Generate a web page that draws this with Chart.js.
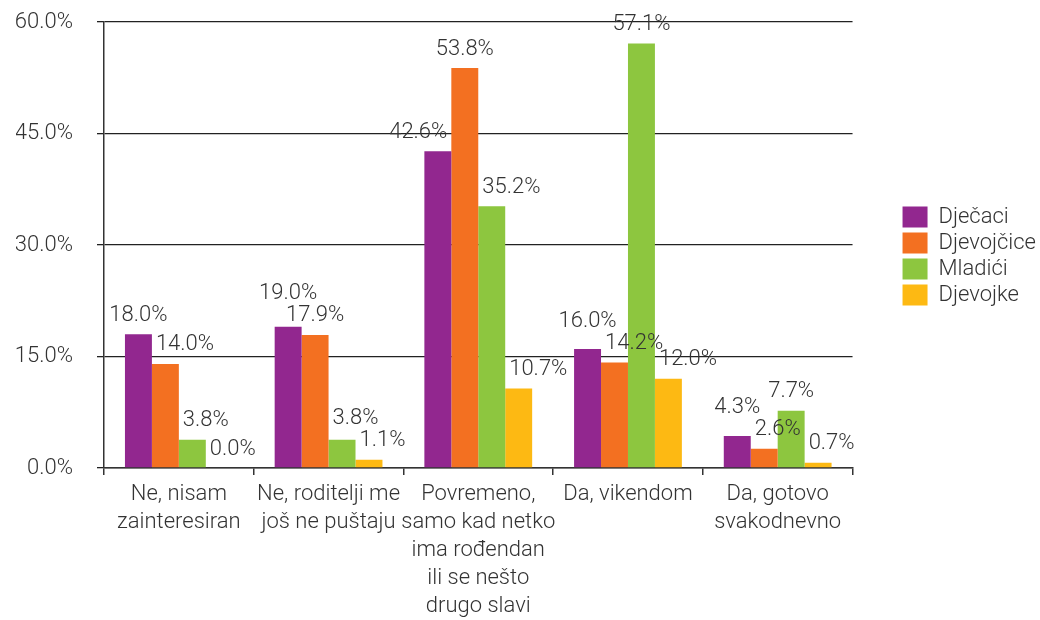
<!DOCTYPE html>
<html>
<head>
<meta charset="utf-8">
<script src="https://cdn.jsdelivr.net/npm/chart.js@4/dist/chart.umd.min.js"></script>
<style>
html,body{margin:0;padding:0;background:#fff;}
#wrap{width:1040px;height:620px;}
</style>
</head>
<body>
<div id="wrap"><canvas id="c" width="1040" height="620"></canvas></div>
<script>
const categories = [
  ["Ne, nisam","zainteresiran"],
  ["Ne, roditelji me","još ne puštaju"],
  ["Povremeno,","samo kad netko","ima rođendan","ili se nešto","drugo slavi"],
  ["Da, vikendom"],
  ["Da, gotovo","svakodnevno"]
];
const seriesNames = ["Dječaci","Djevojčice","Mladići","Djevojke"];
const djecaci   = [18.0, 19.0, 42.6, 16.0, 4.3];
const djevojcice= [14.0, 17.9, 53.8, 14.2, 2.6];
const mladici   = [3.8, 3.8, 35.2, 57.1, 7.7];
const djevojke  = [0.0, 1.1, 10.7, 12.0, 0.7];
const yTicks = [0, 15, 30, 45, 60];
const colors = ["#92278F","#F37021","#8DC63F","#FDB913"];

const FONT = "Roboto, 'Liberation Sans', sans-serif";
const TXT = "#333333";
const FS = 22;

// value labels above bars, nudged away from neighbouring bars / labels
const labelPlugin = {
  id: 'valueLabels',
  afterDatasetsDraw(chart) {
    const ctx = chart.ctx;
    ctx.save();
    ctx.font = "300 " + FS + "px " + FONT;
    ctx.fillStyle = TXT;
    ctx.textAlign = 'center';
    ctx.textBaseline = 'middle';
    const nDs = chart.data.datasets.length;
    const nCat = chart.data.labels.length;
    const H = 18, GAP = 4, RAISE = 19;
    for (let j = 0; j < nCat; j++) {
      const bars = [], labs = [];
      for (let i = 0; i < nDs; i++) {
        const el = chart.getDatasetMeta(i).data[j];
        const text = chart.data.datasets[i].data[j].toFixed(1) + '%';
        const w = ctx.measureText(text).width;
        bars.push({l: el.x - el.width / 2, r: el.x + el.width / 2, top: el.y});
        labs.push({text, w, x: el.x, y: el.y - RAISE});
      }
      for (let i = 0; i < nDs; i++) {
        const L = labs[i];
        const bottom = L.y + H / 2;
        const left = i > 0 ? bars[i - 1] : null;
        const right = i < nDs - 1 ? bars[i + 1] : null;
        if (left && left.top < bottom && left.r + GAP > L.x - L.w / 2) {
          L.x = left.r + GAP + L.w / 2;
        } else if (right && right.top < bottom && right.l - GAP < L.x + L.w / 2) {
          const nx = right.l - GAP - L.w / 2;
          if (!left || !(left.top < bottom && left.r > nx - L.w / 2)) L.x = nx;
        }
      }
      for (let i = nDs - 1; i > 0; i--) {
        const a = labs[i - 1], b = labs[i];
        const hOver = (a.x + a.w / 2) > (b.x - b.w / 2) && (b.x + b.w / 2) > (a.x - a.w / 2);
        const vOver = Math.abs(a.y - b.y) < H + 4;
        if (hOver && vOver) a.y = Math.min(a.y, b.y - H - 4);
      }
      labs.forEach(L => ctx.fillText(L.text, L.x, L.y));
    }
    ctx.restore();
  }
};

const legendShift = {
  id: 'legendShift',
  beforeInit(chart) {
    const lg = chart.legend;
    if (lg) {
      const orig = lg.fit;
      lg.fit = function() { orig.call(this); this.width += 38; };
    }
  },
  afterLayout(chart) {
    const lg = chart.legend;
    if (lg) { lg.left += 46; lg.top = 202; }
  }
};

new Chart(document.getElementById('c'), {
  type: 'bar',
  data: {
    labels: categories,
    datasets: [
      {label: seriesNames[0], data: djecaci, backgroundColor: colors[0]},
      {label: seriesNames[1], data: djevojcice, backgroundColor: colors[1]},
      {label: seriesNames[2], data: mladici, backgroundColor: colors[2]},
      {label: seriesNames[3], data: djevojke, backgroundColor: colors[3]}
    ]
  },
  options: {
    responsive: false,
    animation: false,
    devicePixelRatio: 1,
    layout: {padding: {left: 16, right: 2, top: 22, bottom: 0}},
    datasets: {bar: {categoryPercentage: 0.72, barPercentage: 1.0}},
    plugins: {
      legend: {
        position: 'right',
        align: 'start',
        labels: {
          boxWidth: 25, boxHeight: 21, padding: 4,
          color: TXT,
          font: {family: FONT, size: FS, weight: '300'}
        }
      },
      tooltip: {enabled: false}
    },
    scales: {
      x: {
        offset: true,
        afterFit(scale) { scale.height = 152; },
        grid: {display: true, drawOnChartArea: false, drawTicks: true, tickLength: 7, color: '#333', lineWidth: 1.5, offset: true},
        border: {display: true, color: '#333', width: 1.5},
        ticks: {color: TXT, font: {family: FONT, size: FS, weight: '300', lineHeight: 1.27}, maxRotation: 0, autoSkip: false, padding: 6}
      },
      y: {
        min: 0, max: 60,
        afterBuildTicks(scale) { scale.ticks = yTicks.map(v => ({value: v})); },
        afterFit(scale) { scale.width = 88; scale.paddingTop = 12; scale.paddingBottom = 12; },
        grid: {color: '#222', lineWidth: 1.3, tickLength: 7},
        border: {display: true, color: '#333', width: 1.5},
        ticks: {color: TXT, font: {family: FONT, size: FS, weight: '300'}, padding: 24,
          callback: v => v.toFixed(1) + '%'}
      }
    }
  },
  plugins: [labelPlugin, legendShift]
});
</script>
</body>
</html>
